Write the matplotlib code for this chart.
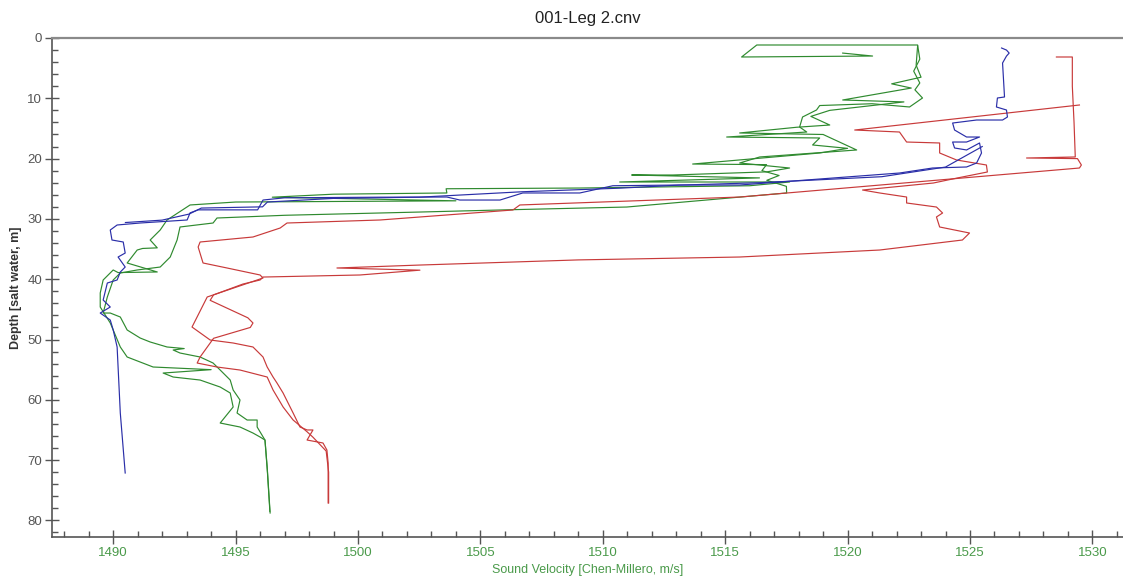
import matplotlib
matplotlib.use("Agg")
import matplotlib.pyplot as plt
from matplotlib.ticker import MultipleLocator

plt.rcParams['font.family'] = ['Liberation Sans', 'DejaVu Sans']

# sound velocity (m/s) and depth (m)
blue_v = [1526.29, 1526.49, 1526.6, 1526.49, 1526.33, 1526.41, 1526.12, 1526.08, 1526.49, 1526.53,
          1526.33, 1525.27, 1524.29, 1524.37, 1524.86, 1525.39, 1524.86, 1524.29, 1524.37, 1524.86,
          1525.39, 1525.47, 1525.27, 1524.86, 1523.47, 1522.12, 1515.59, 1513.14, 1510.41, 1509.06,
          1506.73, 1505.8, 1504.16, 1503.63, 1500.9, 1497.0, 1496.12, 1495.9, 1493.47, 1493.14,
          1493.02, 1491.1, 1490.16, 1489.88, 1489.95, 1490.41, 1490.49, 1490.2, 1490.49, 1490.29,
          1490.16, 1489.76, 1489.59, 1489.88, 1489.47, 1489.88, 1490.0, 1490.16, 1490.29, 1490.49]
blue_d = [1.66, 2.0, 2.5, 3.0, 4.15, 9.78, 9.95, 11.44, 11.94, 13.1,
          13.6, 13.6, 14.1, 15.26, 16.42, 16.42, 17.25, 17.25, 18.24, 18.57,
          17.41, 19.07, 20.73, 21.39, 21.56, 22.39, 24.38, 24.38, 24.5, 25.7,
          25.7, 26.87, 26.87, 26.37, 26.4, 26.5, 26.87, 28.5, 28.5, 29.0,
          30.18, 30.68, 31.01, 31.84, 33.5, 33.83, 35.66, 36.32, 37.98, 38.81,
          40.13, 40.63, 43.45, 44.61, 45.61, 46.77, 48.42, 51.24, 62.19, 72.14]

blue2_v = [1525.5, 1524.0, 1521.4, 1516.4, 1513.1, 1510.7, 1506.7, 1502.5, 1499.0, 1496.3,
           1496.1, 1493.6, 1493.1, 1492.0, 1490.5]
blue2_d = [18.0, 21.4, 23.0, 24.0, 24.4, 24.9, 25.5, 26.4, 26.6, 27.2,
           28.0, 28.2, 29.2, 30.2, 30.6]

red_v = [1528.53, 1529.18, 1529.18, 1529.25, 1529.3, 1527.31, 1529.39, 1529.55, 1529.47, 1515.6,
         1506.61, 1506.33, 1500.9, 1497.1, 1496.82, 1495.71, 1493.55, 1493.47, 1493.67, 1494.65,
         1496.0, 1496.12, 1493.84, 1493.22, 1493.96, 1494.9, 1495.71, 1496.12, 1496.29, 1496.53,
         1496.69, 1496.94, 1497.35, 1497.63, 1497.92, 1498.16, 1497.92, 1498.57, 1498.73, 1498.78,
         1498.78]
red_d = [3.15, 3.15, 8.0, 14.0, 19.73, 19.9, 20.0, 21.06, 21.56, 26.37,
         27.69, 28.52, 30.18, 30.68, 31.51, 33.0, 33.83, 34.66, 37.31, 38.14,
         39.3, 39.8, 42.95, 47.93, 50.08, 50.58, 51.24, 52.9, 54.56, 56.22,
         57.21, 58.87, 62.19, 64.51, 65.0, 65.0, 66.67, 67.16, 68.33, 70.48,
         77.11]

red2_v = [1529.47, 1520.29, 1522.12, 1522.41, 1523.76, 1523.76, 1524.45, 1525.67, 1525.71, 1524.5,
          1523.5, 1520.61, 1521.31, 1522.41, 1522.41, 1523.63, 1523.88, 1523.63, 1523.76, 1524.98,
          1524.69, 1521.31, 1515.59, 1509.0, 1502.53, 1499.14, 1502.53, 1500.08, 1496.12, 1496.0,
          1495.3, 1494.1, 1493.96, 1495.5, 1495.71, 1495.6, 1494.1, 1493.55, 1493.43, 1494.24,
          1495.18, 1496.29, 1496.53, 1496.94, 1497.35, 1497.92, 1498.16, 1498.7, 1498.8, 1498.8]
red2_d = [11.11, 15.26, 15.59, 17.25, 17.41, 19.07, 20.23, 21.06, 22.22, 23.2,
          24.05, 25.21, 25.7, 26.37, 27.36, 28.03, 29.02, 29.68, 31.34, 32.34,
          33.5, 35.16, 36.32, 36.8, 37.65, 38.14, 38.5, 39.3, 39.64, 40.13,
          40.8, 42.6, 43.5, 46.4, 47.26, 48.0, 49.8, 52.9, 53.9, 54.56,
          55.06, 56.22, 58.37, 61.19, 63.35, 65.3, 66.2, 68.5, 72.0, 77.1]

green1_v = [1519.8, 1521.02, 1515.67, 1516.29, 1522.86, 1522.95, 1522.7, 1522.95, 1522.75, 1523.06,
            1522.53, 1521.0, 1518.86, 1518.73, 1518.16, 1518.04, 1518.33, 1515.06, 1518.86, 1518.57,
            1520.0, 1518.86, 1513.67, 1516.69, 1516.5, 1517.2, 1516.7, 1517.5, 1517.51, 1511.9,
            1510.98, 1506.0, 1502.53, 1497.0, 1494.24, 1494.08, 1492.73, 1492.61, 1492.33, 1491.92,
            1490.98, 1490.29, 1490.0, 1489.76, 1489.59, 1489.88, 1490.29, 1490.57, 1491.1, 1491.51,
            1492.2, 1492.9, 1492.45, 1492.73, 1493.55, 1494.08, 1494.37, 1494.78, 1494.9, 1495.18,
            1495.06, 1495.47, 1495.88, 1495.88, 1496.2, 1496.29, 1496.41]
green1_d = [2.5, 2.99, 3.15, 1.16, 1.16, 3.5, 5.5, 7.46, 8.6, 9.95,
            11.44, 10.9, 11.2, 11.94, 13.1, 14.76, 15.59, 16.42, 16.58, 17.74,
            18.3, 19.07, 20.9, 21.0, 22.0, 22.8, 23.6, 24.6, 25.7, 27.7,
            28.03, 28.5, 28.86, 29.4, 29.85, 30.68, 31.34, 33.5, 36.32, 37.98,
            38.47, 38.97, 40.13, 42.95, 45.61, 45.61, 46.27, 48.42, 49.75, 50.41,
            51.24, 51.5, 51.74, 52.24, 52.9, 53.9, 55.06, 56.72, 58.37, 60.03,
            62.19, 63.35, 63.35, 64.51, 66.67, 71.14, 78.77]

green2_v = [1522.86, 1522.8, 1523.0, 1521.8, 1522.6, 1519.8, 1522.3, 1519.27, 1518.5, 1519.27,
            1517.92, 1515.59, 1519.0, 1520.37, 1516.41, 1515.59, 1517.63, 1516.7, 1512.86, 1511.18,
            1516.4, 1510.69, 1517.63, 1516.0, 1509.06, 1503.6, 1503.63, 1499.0, 1496.5, 1504.0,
            1495.0, 1493.14, 1492.2, 1491.92, 1491.51, 1491.8, 1491.2, 1490.98, 1490.57, 1491.8,
            1490.2, 1490.0, 1489.59, 1489.47, 1489.47, 1489.88, 1490.29, 1490.57, 1491.1, 1491.63,
            1494.0, 1492.04, 1492.45, 1493.55, 1494.37, 1494.78, 1494.9, 1494.37, 1495.18, 1495.71,
            1496.0, 1496.2, 1496.3, 1496.4]
green2_d = [1.3, 4.5, 6.5, 7.6, 8.3, 10.28, 10.6, 12.0, 13.0, 14.43,
            14.8, 15.75, 16.0, 18.57, 19.73, 20.73, 21.56, 22.2, 22.72, 22.72,
            23.2, 23.88, 23.88, 24.5, 24.88, 25.0, 25.7, 25.9, 26.4, 27.0,
            27.2, 27.69, 30.18, 31.84, 33.5, 34.8, 34.9, 35.16, 37.31, 38.8,
            38.9, 38.47, 40.13, 42.29, 44.61, 47.26, 51.24, 52.9, 53.73, 54.56,
            55.0, 55.56, 56.22, 56.72, 57.88, 58.87, 61.19, 63.85, 64.51, 65.51,
            66.17, 66.67, 72.0, 78.5]

blue = '#2a2ea8'
red = '#c83a3a'
green = '#2f8a2f'
txt_green = '#4a9a4a'

fig = plt.figure(figsize=(11.23, 5.8), dpi=100)
ax = fig.add_axes([52 / 1123, 43 / 580, 1 - 52 / 1123, 499 / 580])

lw = 0.85
ax.plot(green1_v, green1_d, color=green, lw=lw)
ax.plot(green2_v, green2_d, color=green, lw=lw)
ax.plot(red_v, red_d, color=red, lw=lw)
ax.plot(red2_v, red2_d, color=red, lw=lw)
ax.plot(blue_v, blue_d, color=blue, lw=lw)
ax.plot(blue2_v, blue2_d, color=blue, lw=lw)

ax.set_xlim(1487.5, 1531.25)
ax.set_ylim(82.75, 0)

ax.xaxis.set_major_locator(MultipleLocator(5))
ax.xaxis.set_minor_locator(MultipleLocator(1))
ax.yaxis.set_major_locator(MultipleLocator(10))
ax.yaxis.set_minor_locator(MultipleLocator(2))

ax.tick_params(axis='both', which='major', direction='inout', length=10, width=1,
               color='#555555', labelsize=9.5)
ax.tick_params(axis='both', which='minor', direction='in', length=4, width=1, color='#555555')
ax.tick_params(axis='x', which='major', labelcolor=txt_green, pad=2)
ax.tick_params(axis='y', which='major', labelcolor='#555555', pad=2)

ax.spines['right'].set_visible(False)
ax.spines['top'].set_color('#8a8a8a')
ax.spines['top'].set_linewidth(1.6)
ax.spines['left'].set_color('#555555')
ax.spines['bottom'].set_color('#555555')
ax.spines['left'].set_linewidth(1.2)
ax.spines['bottom'].set_linewidth(1.2)

ax.set_title('001-Leg 2.cnv', fontsize=12, color='#222222', pad=11)
ax.set_xlabel('Sound Velocity [Chen-Millero, m/s]', fontsize=9, color=txt_green, labelpad=4)
ax.set_ylabel('Depth [salt water, m]', fontsize=9, color='#333333', fontweight='bold', labelpad=4)

fig.savefig('out.png', dpi=100)
